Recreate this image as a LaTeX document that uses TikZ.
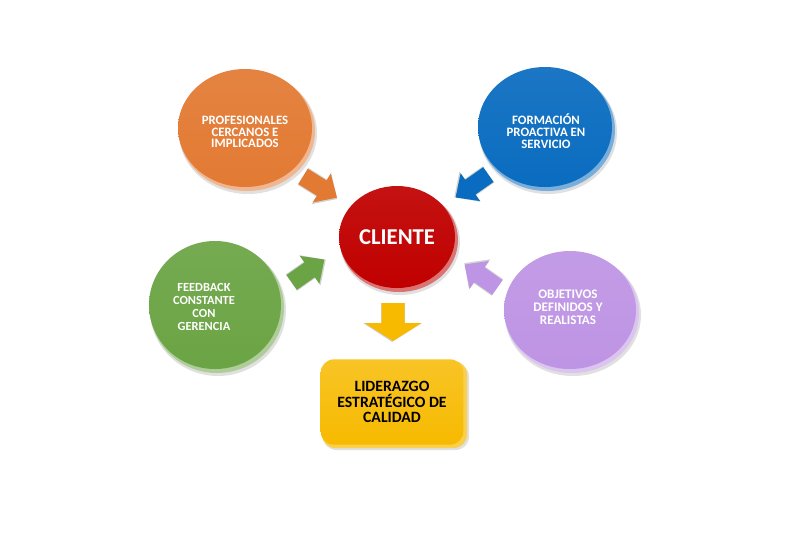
\documentclass[tikz,border=0pt]{standalone}
\usepackage{fontspec}
\setmainfont{Carlito}
\usetikzlibrary{shapes.geometric}
\definecolor{corange}{HTML}{E27A33}
\definecolor{cblue}{HTML}{0A6CC0}
\definecolor{cred}{HTML}{C00000}
\definecolor{cgreen}{HTML}{6BA444}
\definecolor{cpurple}{HTML}{BE94E4}
\definecolor{cyellow}{HTML}{F7BA00}
\tikzset{
  bubble/.style={ellipse, inner sep=0pt, text=white, align=center,
    font=\bfseries\fontsize{9.6}{8.8}\selectfont},
  rim/.style={fill=#1!55!white},
  shadowfill/.style={fill=black!12},
  blockarrow/.pic={
    \fill[black!18] (-20,-10) -- (2,-10) -- (2,-18) -- (21,1) -- (2,19) -- (2,10) -- (-20,10) -- cycle;
    \fill[#1] (-20,-9) -- (2,-9) -- (2,-17) -- (20,0) -- (2,17) -- (2,9) -- (-20,9) -- cycle;
  },
  bigarrow/.pic={
    \fill[black!18] (-18,-12) -- (2,-12) -- (2,-29) -- (21,1) -- (2,30) -- (2,12) -- (-18,12) -- cycle;
    \fill[#1] (-18,-11.5) -- (2,-11.5) -- (2,-28.5) -- (20,0) -- (2,28.5) -- (2,11.5) -- (-18,11.5) -- cycle;
  }
}
\begin{document}
\begin{tikzpicture}[x=0.75pt,y=-0.75pt]
\useasboundingbox (0,0) rectangle (789,537);

% orange
\fill[shadowfill] (248,133) ellipse [x radius=69, y radius=61];
\fill[rim=corange] (247,131) ellipse [x radius=68, y radius=60];
\node[bubble, minimum width=100.5pt, minimum height=88.5pt, top color=corange!93!white, bottom color=corange] (prof) at (245,128) {};
\node[text=white, align=center, inner sep=0pt, font=\bfseries\fontsize{9.6}{8.8}\selectfont] (proftxt) at (245,132) {PROFESIONALES\\CERCANOS E\\IMPLICADOS};

% blue
\fill[shadowfill] (548,132) ellipse [x radius=69, y radius=62];
\fill[rim=cblue] (547,130) ellipse [x radius=68, y radius=61];
\node[bubble, minimum width=100.5pt, minimum height=90pt, top color=cblue!93!white, bottom color=cblue] (form) at (545,127) {};
\node[text=white, align=center, inner sep=0pt, font=\bfseries\fontsize{9.6}{8.8}\selectfont] (formtxt) at (546,131) {FORMACIÓN\\PROACTIVA EN\\SERVICIO};

% red
\fill[shadowfill] (400,242) ellipse [x radius=60, y radius=53];
\fill[rim=cred] (399,240) ellipse [x radius=59, y radius=52];
\node[bubble, minimum width=87pt, minimum height=76.5pt, top color=cred!93!white, bottom color=cred, font=\bfseries\fontsize{17}{17}\selectfont] (cli) at (397,237) {CLIENTE};

% green
\fill[shadowfill] (218,310) ellipse [x radius=68, y radius=66];
\fill[rim=cgreen] (217,308) ellipse [x radius=67, y radius=65];
\node[bubble, minimum width=99pt, minimum height=96pt, top color=cgreen!93!white, bottom color=cgreen] (feed) at (215,305) {};
\node[text=white, align=center, inner sep=0pt, font=\bfseries\fontsize{9.3}{9.8}\selectfont] (feedtxt) at (204,307) {FEEDBACK\\CONSTANTE\\CON\\GERENCIA};

% purple
\fill[shadowfill] (573,315) ellipse [x radius=68, y radius=61];
\fill[rim=cpurple] (572,313) ellipse [x radius=67, y radius=60];
\node[bubble, minimum width=99pt, minimum height=88.5pt, top color=cpurple!93!white, bottom color=cpurple] (obj) at (570,310) {};
\node[text=white, align=center, inner sep=0pt, font=\bfseries\fontsize{9.8}{9.6}\selectfont] (objtxt) at (568,307) {OBJETIVOS\\DEFINIDOS Y\\REALISTAS};

% yellow box
\fill[shadowfill, rounded corners=10pt] (323,363) rectangle (469,450);
\fill[cyellow!70!white, rounded corners=10pt] (322,361) rectangle (467,448);
\node[draw=none, rounded corners=10pt, minimum width=107pt, minimum height=64pt, inner sep=0pt,
      top color=cyellow!85!white, bottom color=cyellow, align=center,
      font=\bfseries\fontsize{11.8}{11.8}\selectfont, text=black] (lid) at (392,402) {LIDERAZGO\\ESTRATÉGICO DE\\CALIDAD};

% arrows
\pic[rotate=-32] at (320,187) {blockarrow=corange};
\pic[rotate=35] at (308,271) {blockarrow=cgreen};
\pic[rotate=-145] at (472,186) {blockarrow=cblue};
\pic[rotate=145] at (481,276) {blockarrow=cpurple};
\pic[rotate=-90] at (393,321) {bigarrow=cyellow};
\end{tikzpicture}
\end{document}
